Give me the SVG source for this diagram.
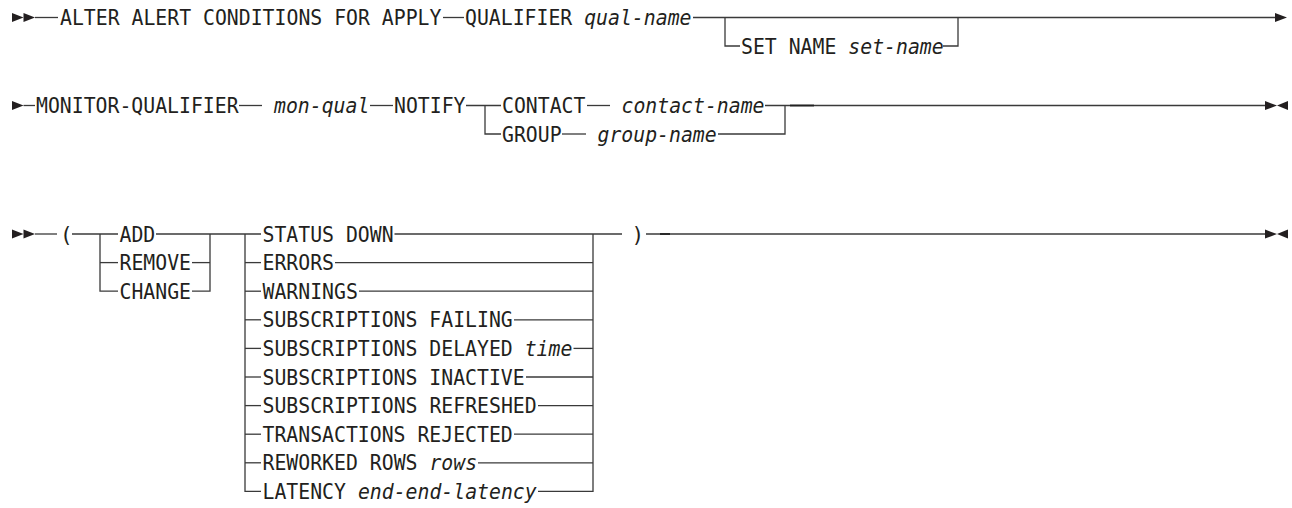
<svg xmlns="http://www.w3.org/2000/svg" width="1292" height="508" viewBox="0 0 1292 508">
<style>
.t{font-family:"DejaVu Sans Mono","Liberation Mono",monospace;font-size:21px;fill:#231f20}
.i{font-style:italic}
.c line,.c polyline{stroke:#3a3a3a;stroke-width:1.3;fill:none}
.c .thk{stroke:#222;stroke-width:1.8}
.m{fill:#231f20}
</style>
<rect width="1292" height="508" fill="#fff"/>
<g id="connectors" class="c">
  <line x1="35" y1="17.5" x2="58" y2="17.5"/>
  <line x1="443" y1="17.5" x2="464" y2="17.5"/>
  <line x1="693" y1="17.5" x2="1275" y2="17.5"/>
  <polyline points="725,17.5 725,46 740,46"/>
  <polyline points="943,46 958,46 958,17.5"/>
  <line x1="23.5" y1="105.5" x2="35" y2="105.5"/>
  <line x1="239" y1="105.5" x2="262" y2="105.5"/>
  <line x1="370" y1="105.5" x2="393" y2="105.5"/>
  <line x1="466" y1="105.5" x2="501" y2="105.5"/>
  <polyline points="485,105.5 485,134 501,134"/>
  <line x1="587" y1="105.5" x2="610" y2="105.5"/>
  <line x1="765" y1="105.5" x2="1265" y2="105.5"/>
  <line class="thk" x1="790" y1="105.5" x2="814" y2="105.5"/>
  <line x1="562" y1="134" x2="586" y2="134"/>
  <polyline points="718,134 785,134 785,105.5"/>
  <line x1="35" y1="234" x2="57" y2="234"/>
  <line x1="72" y1="234" x2="118" y2="234"/>
  <polyline points="100,234 100,291.2 118,291.2"/>
  <line x1="100" y1="262.6" x2="118" y2="262.6"/>
  <line x1="156" y1="234" x2="261" y2="234"/>
  <line x1="192" y1="262.6" x2="210" y2="262.6"/>
  <polyline points="192,291.2 210,291.2 210,234"/>
  <polyline points="245,234 245,491.4 261,491.4"/>
  <line x1="245" y1="262.6" x2="261" y2="262.6"/>
  <line x1="245" y1="291.2" x2="261" y2="291.2"/>
  <line x1="245" y1="319.8" x2="261" y2="319.8"/>
  <line x1="245" y1="348.4" x2="261" y2="348.4"/>
  <line x1="245" y1="377" x2="261" y2="377"/>
  <line x1="245" y1="405.6" x2="261" y2="405.6"/>
  <line x1="245" y1="434.2" x2="261" y2="434.2"/>
  <line x1="245" y1="462.8" x2="261" y2="462.8"/>
  <line x1="394.5" y1="234" x2="622" y2="234"/>
  <line x1="335" y1="262.6" x2="593" y2="262.6"/>
  <line x1="359" y1="291.2" x2="593" y2="291.2"/>
  <line x1="514" y1="319.8" x2="593" y2="319.8"/>
  <line x1="573.5" y1="348.4" x2="593" y2="348.4"/>
  <line x1="526" y1="377" x2="593" y2="377"/>
  <line x1="538" y1="405.6" x2="593" y2="405.6"/>
  <line x1="514" y1="434.2" x2="593" y2="434.2"/>
  <line x1="478" y1="462.8" x2="593" y2="462.8"/>
  <polyline points="538,491.4 593,491.4 593,234"/>
  <line x1="646" y1="234" x2="1265" y2="234"/>
  <line class="thk" x1="660" y1="234" x2="670" y2="234"/>
</g>
<g id="markers">
  <polygon class="m" points="12,13 23.5,17.5 12,22"/>
  <polygon class="m" points="23.5,13 35,17.5 23.5,22"/>
  <polygon class="m" points="1275,13 1287,17.5 1275,22"/>
  <polygon class="m" points="12,101 23.5,105.5 12,110"/>
  <polygon class="m" points="1265,101 1277,105.5 1265,110"/>
  <polygon class="m" points="1288,101 1277,105.5 1288,110"/>
  <polygon class="m" points="12,229.5 23.5,234 12,238.5"/>
  <polygon class="m" points="23.5,229.5 35,234 23.5,238.5"/>
  <polygon class="m" points="1265,229.5 1277,234 1265,238.5"/>
  <polygon class="m" points="1288,229.5 1277,234 1288,238.5"/>
</g>
<g id="n-alter"><text class="t" x="60" y="25.1" textLength="381.4" lengthAdjust="spacingAndGlyphs">ALTER ALERT CONDITIONS FOR APPLY</text></g>
<g id="n-qualifier"><text class="t" x="465" y="25.1" textLength="107.3" lengthAdjust="spacingAndGlyphs">QUALIFIER</text><text class="t i" x="584.2" y="25.1" textLength="107.3" lengthAdjust="spacingAndGlyphs">qual-name</text></g>
<g id="n-setname"><text class="t" x="741" y="53.6" textLength="95.4" lengthAdjust="spacingAndGlyphs">SET NAME</text><text class="t i" x="848.3" y="53.6" textLength="95.4" lengthAdjust="spacingAndGlyphs">set-name</text></g>
<g id="n-monitor"><text class="t" x="36" y="113.1" textLength="202.6" lengthAdjust="spacingAndGlyphs">MONITOR-QUALIFIER</text></g>
<g id="n-monqual"><text class="t i" x="274" y="113.1" textLength="95.4" lengthAdjust="spacingAndGlyphs">mon-qual</text></g>
<g id="n-notify"><text class="t" x="394" y="113.1" textLength="71.5" lengthAdjust="spacingAndGlyphs">NOTIFY</text></g>
<g id="n-contact"><text class="t" x="502" y="113.1" textLength="83.4" lengthAdjust="spacingAndGlyphs">CONTACT</text></g>
<g id="n-contactname"><text class="t i" x="621.5" y="113.1" textLength="143" lengthAdjust="spacingAndGlyphs">contact-name</text></g>
<g id="n-group"><text class="t" x="502" y="141.6" textLength="59.6" lengthAdjust="spacingAndGlyphs">GROUP</text></g>
<g id="n-groupname"><text class="t i" x="597.5" y="141.6" textLength="119.2" lengthAdjust="spacingAndGlyphs">group-name</text></g>
<g id="n-lparen"><text class="t" x="60" y="241.6">(</text></g>
<g id="n-add"><text class="t" x="119.5" y="241.6" textLength="35.8" lengthAdjust="spacingAndGlyphs">ADD</text></g>
<g id="n-remove"><text class="t" x="119.5" y="270.2" textLength="71.5" lengthAdjust="spacingAndGlyphs">REMOVE</text></g>
<g id="n-change"><text class="t" x="119.5" y="298.8" textLength="71.5" lengthAdjust="spacingAndGlyphs">CHANGE</text></g>
<g id="n-statusdown"><text class="t" x="262.5" y="241.6" textLength="131.1" lengthAdjust="spacingAndGlyphs">STATUS DOWN</text></g>
<g id="n-errors"><text class="t" x="262.5" y="270.2" textLength="71.5" lengthAdjust="spacingAndGlyphs">ERRORS</text></g>
<g id="n-warnings"><text class="t" x="262.5" y="298.8" textLength="95.4" lengthAdjust="spacingAndGlyphs">WARNINGS</text></g>
<g id="n-subfailing"><text class="t" x="262.5" y="327.4" textLength="250.3" lengthAdjust="spacingAndGlyphs">SUBSCRIPTIONS FAILING</text></g>
<g id="n-subdelayed"><text class="t" x="262.5" y="356" textLength="250.3" lengthAdjust="spacingAndGlyphs">SUBSCRIPTIONS DELAYED</text><text class="t i" x="524.7" y="356" textLength="47.7" lengthAdjust="spacingAndGlyphs">time</text></g>
<g id="n-subinactive"><text class="t" x="262.5" y="384.6" textLength="262.2" lengthAdjust="spacingAndGlyphs">SUBSCRIPTIONS INACTIVE</text></g>
<g id="n-subrefreshed"><text class="t" x="262.5" y="413.2" textLength="274.2" lengthAdjust="spacingAndGlyphs">SUBSCRIPTIONS REFRESHED</text></g>
<g id="n-transrejected"><text class="t" x="262.5" y="441.8" textLength="250.3" lengthAdjust="spacingAndGlyphs">TRANSACTIONS REJECTED</text></g>
<g id="n-reworked"><text class="t" x="262.5" y="470.4" textLength="155" lengthAdjust="spacingAndGlyphs">REWORKED ROWS</text><text class="t i" x="429.4" y="470.4" textLength="47.7" lengthAdjust="spacingAndGlyphs">rows</text></g>
<g id="n-latency"><text class="t" x="262.5" y="499" textLength="83.4" lengthAdjust="spacingAndGlyphs">LATENCY</text><text class="t i" x="357.9" y="499" textLength="178.8" lengthAdjust="spacingAndGlyphs">end-end-latency</text></g>
<g id="n-rparen"><text class="t" x="631.5" y="241.6">)</text></g>
</svg>
